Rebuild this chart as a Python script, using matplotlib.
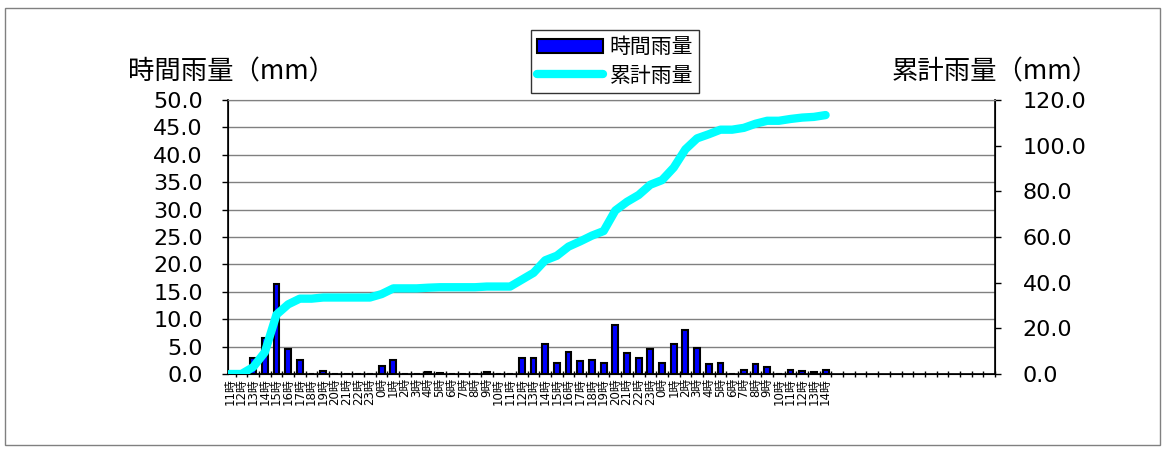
import matplotlib.pyplot as plt
from matplotlib.patches import Rectangle
import numpy as np

plt.rcParams['font.family'] = ['Noto Sans CJK JP', 'DejaVu Sans']

# hours shown on the category axis (11時 day 1 .. 14時 day 3), then empty slots
hours = [11, 12, 13, 14, 15, 16, 17, 18, 19, 20, 21, 22, 23,
         0, 1, 2, 3, 4, 5, 6, 7, 8, 9, 10, 11, 12, 13, 14, 15, 16, 17, 18, 19, 20, 21, 22, 23,
         0, 1, 2, 3, 4, 5, 6, 7, 8, 9, 10, 11, 12, 13, 14]
n_slots = 66

# hourly rainfall (mm)
hourly = [0.0, 0.0, 3.0, 6.5, 16.5, 4.5, 2.5, 0.0, 0.5, 0.0, 0.0, 0.0, 0.0,
          1.5, 2.5, 0.0, 0.0, 0.3, 0.2, 0.0, 0.0, 0.0, 0.3, 0.0, 0.0,
          3.0, 3.0, 5.5, 2.0, 4.0, 2.3, 2.5, 2.0, 9.0, 3.8, 3.0, 4.5, 2.0,
          5.5, 8.0, 4.8, 1.8, 2.0, 0.0, 0.8, 1.8, 1.3, 0.0, 0.8, 0.6, 0.3, 0.8]
cumulative = np.cumsum(hourly)

tick_labels = [f"{h}時" for h in hours] + [""] * (n_slots - len(hours))

num_font = ['DejaVu Sans', 'Noto Sans CJK JP']

fig = plt.figure(figsize=(11.65, 4.49), dpi=100)
ax = fig.add_axes([228 / 1165, 75 / 449, 767 / 1165, 274 / 449])
ax2 = ax.twinx()

x = np.arange(len(hourly))
bars = ax.bar(x, hourly, width=0.5, color='#0000FF', edgecolor='black', linewidth=1.5,
              zorder=3, label='時間雨量')
line, = ax2.plot(x, cumulative, color='#00FFFF', linewidth=6, solid_joinstyle='round',
                 solid_capstyle='round', label='累計雨量', zorder=4)

ax.set_xlim(-0.15, 65.4)
ax.set_ylim(0, 50)
ax2.set_ylim(0, 120)
ax.set_yticks(np.arange(0, 50.1, 5))
ax.set_yticklabels([f"{v:.1f}" for v in np.arange(0, 50.1, 5)], fontsize=16, family=num_font)
ax2.set_yticks(np.arange(0, 120.1, 20))
ax2.set_yticklabels([f"{v:.1f}" for v in np.arange(0, 120.1, 20)], fontsize=16, family=num_font)

ax.set_xticks(np.arange(n_slots))
ax.set_xticklabels(tick_labels, rotation=90, fontsize=8.5, family=num_font)
ax.set_xticks(np.arange(n_slots) + 0.5, minor=True)
ax.tick_params(axis='x', which='major', length=0, pad=3)
ax.tick_params(axis='x', which='minor', length=4, direction='inout', width=1)
ax.tick_params(axis='y', length=4, width=1, direction='out', pad=14)
ax2.tick_params(axis='y', length=4, width=1, direction='out', pad=16)

ax.yaxis.grid(True, color='#808080', linewidth=1)
ax.set_axisbelow(True)
for s in ['left', 'bottom']:
    ax.spines[s].set_linewidth(1.2)
ax.spines['top'].set_color('#808080')
ax2.spines['right'].set_linewidth(1.2)
ax2.spines['top'].set_color('#808080')

fig.text(232 / 1165, 1 - 72 / 449, '時間雨量（mm）', fontsize=19, ha='center', va='center')
fig.text(995 / 1165, 1 - 72 / 449, '累計雨量（mm）', fontsize=19, ha='center', va='center')

leg = fig.legend([bars, line], ['時間雨量', '累計雨量'], loc='center',
                 bbox_to_anchor=(615 / 1165, 1 - 61.5 / 449), fontsize=15,
                 frameon=True, fancybox=False, edgecolor='black', handlelength=3.2,
                 borderpad=0.3, labelspacing=0.3, handletextpad=0.3)
leg.get_frame().set_linewidth(1)

fig.patches.append(Rectangle((5 / 1165, 4 / 449), 1155 / 1165, 437 / 449,
                             transform=fig.transFigure, fill=False,
                             edgecolor='#808080', linewidth=1))

fig.savefig('out.png', dpi=100)
